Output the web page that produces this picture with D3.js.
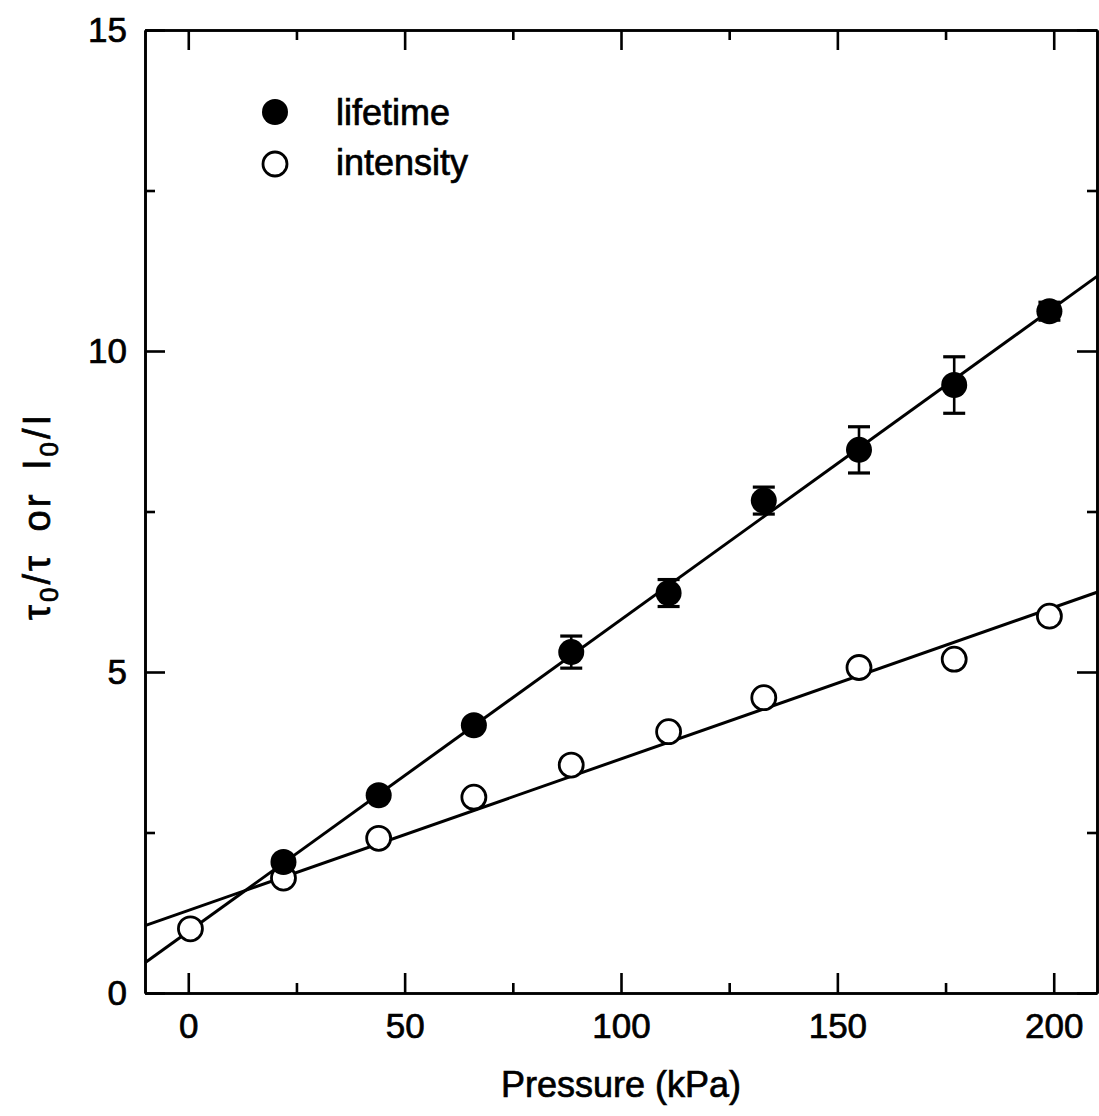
<!DOCTYPE html>
<html>
<head>
<meta charset="utf-8">
<script src="https://cdn.jsdelivr.net/npm/d3@7"></script>
<style>
  html, body { margin: 0; padding: 0; background: #fff; }
  text { font-family: "Liberation Sans", Arial, Helvetica, sans-serif; fill: #000; stroke: #000; stroke-width: 0.7px; }
</style>
</head>
<body>
<svg id="chart" width="1099" height="1116"></svg>
<script>
// ---- data ----
const pressure = [22, 44, 66, 88.5, 111, 133, 155, 177, 199];
const lifetime = [2.04, 3.08, 4.17, 5.31, 6.23, 7.67, 8.46, 9.47, 10.62];
const lifetimeErr = [0.05, 0.05, 0.08, 0.25, 0.21, 0.21, 0.36, 0.44, 0.14];
const intensityPressure = [0.5, 22, 44, 66, 88.5, 111, 133, 155, 177, 199];
const intensity = [1.0, 1.79, 2.41, 3.05, 3.55, 4.07, 4.6, 5.07, 5.2, 5.87];
const lifetimeFit = [0.956, 0.0486];   // intercept, slope
const intensityFit = [1.286, 0.0236];  // intercept, slope
const xMajorTicks = [0, 50, 100, 150, 200];
const xMinorTicks = [25, 75, 125, 175];
const yMajorTicks = [0, 5, 10, 15];
const yMinorTicks = [2.5, 7.5, 12.5];
const legendLabels = ["lifetime", "intensity"];

// ---- layout ----
const svg = d3.select("#chart");
const L = 145, R = 1097, T = 30, B = 993;
const x = d3.scaleLinear().domain([-10, 210]).range([L, R]);
const y = d3.scaleLinear().domain([0, 15]).range([B, T]);

const axisStyle = g => {
  g.selectAll("path.domain").attr("stroke", "#000").attr("stroke-width", 2.6);
  g.selectAll(".tick line").attr("stroke", "#000").attr("stroke-width", 2.6);
  g.selectAll(".tick text").attr("font-size", 35).attr("fill", "#000")
    .attr("font-family", '"Liberation Sans", Arial, sans-serif');
};

// bottom
svg.append("g").attr("transform", `translate(0,${B})`)
  .call(d3.axisBottom(x).tickValues(xMajorTicks).tickSize(-20).tickSizeOuter(0).tickPadding(20).tickFormat(d3.format("d")))
  .call(axisStyle);
svg.append("g").attr("transform", `translate(0,${B})`)
  .call(d3.axisBottom(x).tickValues(xMinorTicks).tickSize(-10).tickSizeOuter(0).tickFormat(""))
  .call(axisStyle);
// top
svg.append("g").attr("transform", `translate(0,${T})`)
  .call(d3.axisTop(x).tickValues(xMajorTicks).tickSize(-20).tickSizeOuter(0).tickFormat(""))
  .call(axisStyle);
svg.append("g").attr("transform", `translate(0,${T})`)
  .call(d3.axisTop(x).tickValues(xMinorTicks).tickSize(-10).tickSizeOuter(0).tickFormat(""))
  .call(axisStyle);
// left
svg.append("g").attr("transform", `translate(${L},0)`)
  .call(d3.axisLeft(y).tickValues(yMajorTicks).tickSize(-20).tickSizeOuter(0).tickPadding(18).tickFormat(d3.format("d")))
  .call(axisStyle);
svg.append("g").attr("transform", `translate(${L},0)`)
  .call(d3.axisLeft(y).tickValues(yMinorTicks).tickSize(-10).tickSizeOuter(0).tickFormat(""))
  .call(axisStyle);
// right
svg.append("g").attr("transform", `translate(${R},0)`)
  .call(d3.axisRight(y).tickValues(yMajorTicks).tickSize(-20).tickSizeOuter(0).tickFormat(""))
  .call(axisStyle);
svg.append("g").attr("transform", `translate(${R},0)`)
  .call(d3.axisRight(y).tickValues(yMinorTicks).tickSize(-10).tickSizeOuter(0).tickFormat(""))
  .call(axisStyle);

// ---- fit lines ----
const plot = svg.append("g");
[lifetimeFit, intensityFit].forEach(f => {
  const xs = x.domain();
  plot.append("line")
    .attr("x1", x(xs[0])).attr("y1", y(f[0] + f[1] * xs[0]))
    .attr("x2", x(xs[1])).attr("y2", y(f[0] + f[1] * xs[1]))
    .attr("stroke", "#000").attr("stroke-width", 3);
});

// ---- error bars ----
const lt = pressure.map((p, i) => ({p, v: lifetime[i], e: lifetimeErr[i]}));
const eb = plot.append("g").attr("stroke", "#000").attr("stroke-width", 2.6);
lt.forEach(d => {
  eb.append("line").attr("x1", x(d.p)).attr("x2", x(d.p)).attr("y1", y(d.v - d.e)).attr("y2", y(d.v + d.e));
  [d.v - d.e, d.v + d.e].forEach(v => {
    eb.append("line").attr("x1", x(d.p) - 11).attr("x2", x(d.p) + 11).attr("y1", y(v)).attr("y2", y(v)).attr("stroke-width", 3.2);
  });
});

// ---- markers ----
plot.selectAll("circle.int").data(intensityPressure.map((p, i) => ({p, v: intensity[i]})))
  .join("circle").attr("class", "int")
  .attr("cx", d => x(d.p)).attr("cy", d => y(d.v)).attr("r", 12)
  .attr("fill", "#fff").attr("stroke", "#000").attr("stroke-width", 2.8);
plot.selectAll("circle.life").data(lt)
  .join("circle").attr("class", "life")
  .attr("cx", d => x(d.p)).attr("cy", d => y(d.v)).attr("r", 13)
  .attr("fill", "#000");

// ---- legend ----
const lg = svg.append("g");
lg.append("circle").attr("cx", 275).attr("cy", 112).attr("r", 13).attr("fill", "#000");
lg.append("circle").attr("cx", 275).attr("cy", 164).attr("r", 12).attr("fill", "#fff").attr("stroke", "#000").attr("stroke-width", 2.8);
lg.append("text").attr("x", 336).attr("y", 125).attr("font-size", 36).text(legendLabels[0]);
lg.append("text").attr("x", 336).attr("y", 175).attr("font-size", 36).text(legendLabels[1]);

// ---- axis titles ----
svg.append("text").attr("x", 621).attr("y", 1097).attr("text-anchor", "middle")
  .attr("font-size", 36).text("Pressure (kPa)");

const yt = svg.append("text").attr("transform", "translate(50,516) rotate(-90)")
  .attr("text-anchor", "middle").attr("font-size", 38).attr("letter-spacing", 3).attr("word-spacing", 8);
yt.append("tspan").text("τ");
yt.append("tspan").attr("font-size", 26).attr("dy", 8).text("0");
yt.append("tspan").attr("dy", -8).text("/τ or I");
yt.append("tspan").attr("font-size", 26).attr("dy", 8).text("0");
yt.append("tspan").attr("dy", -8).text("/I");
</script>
</body>
</html>
